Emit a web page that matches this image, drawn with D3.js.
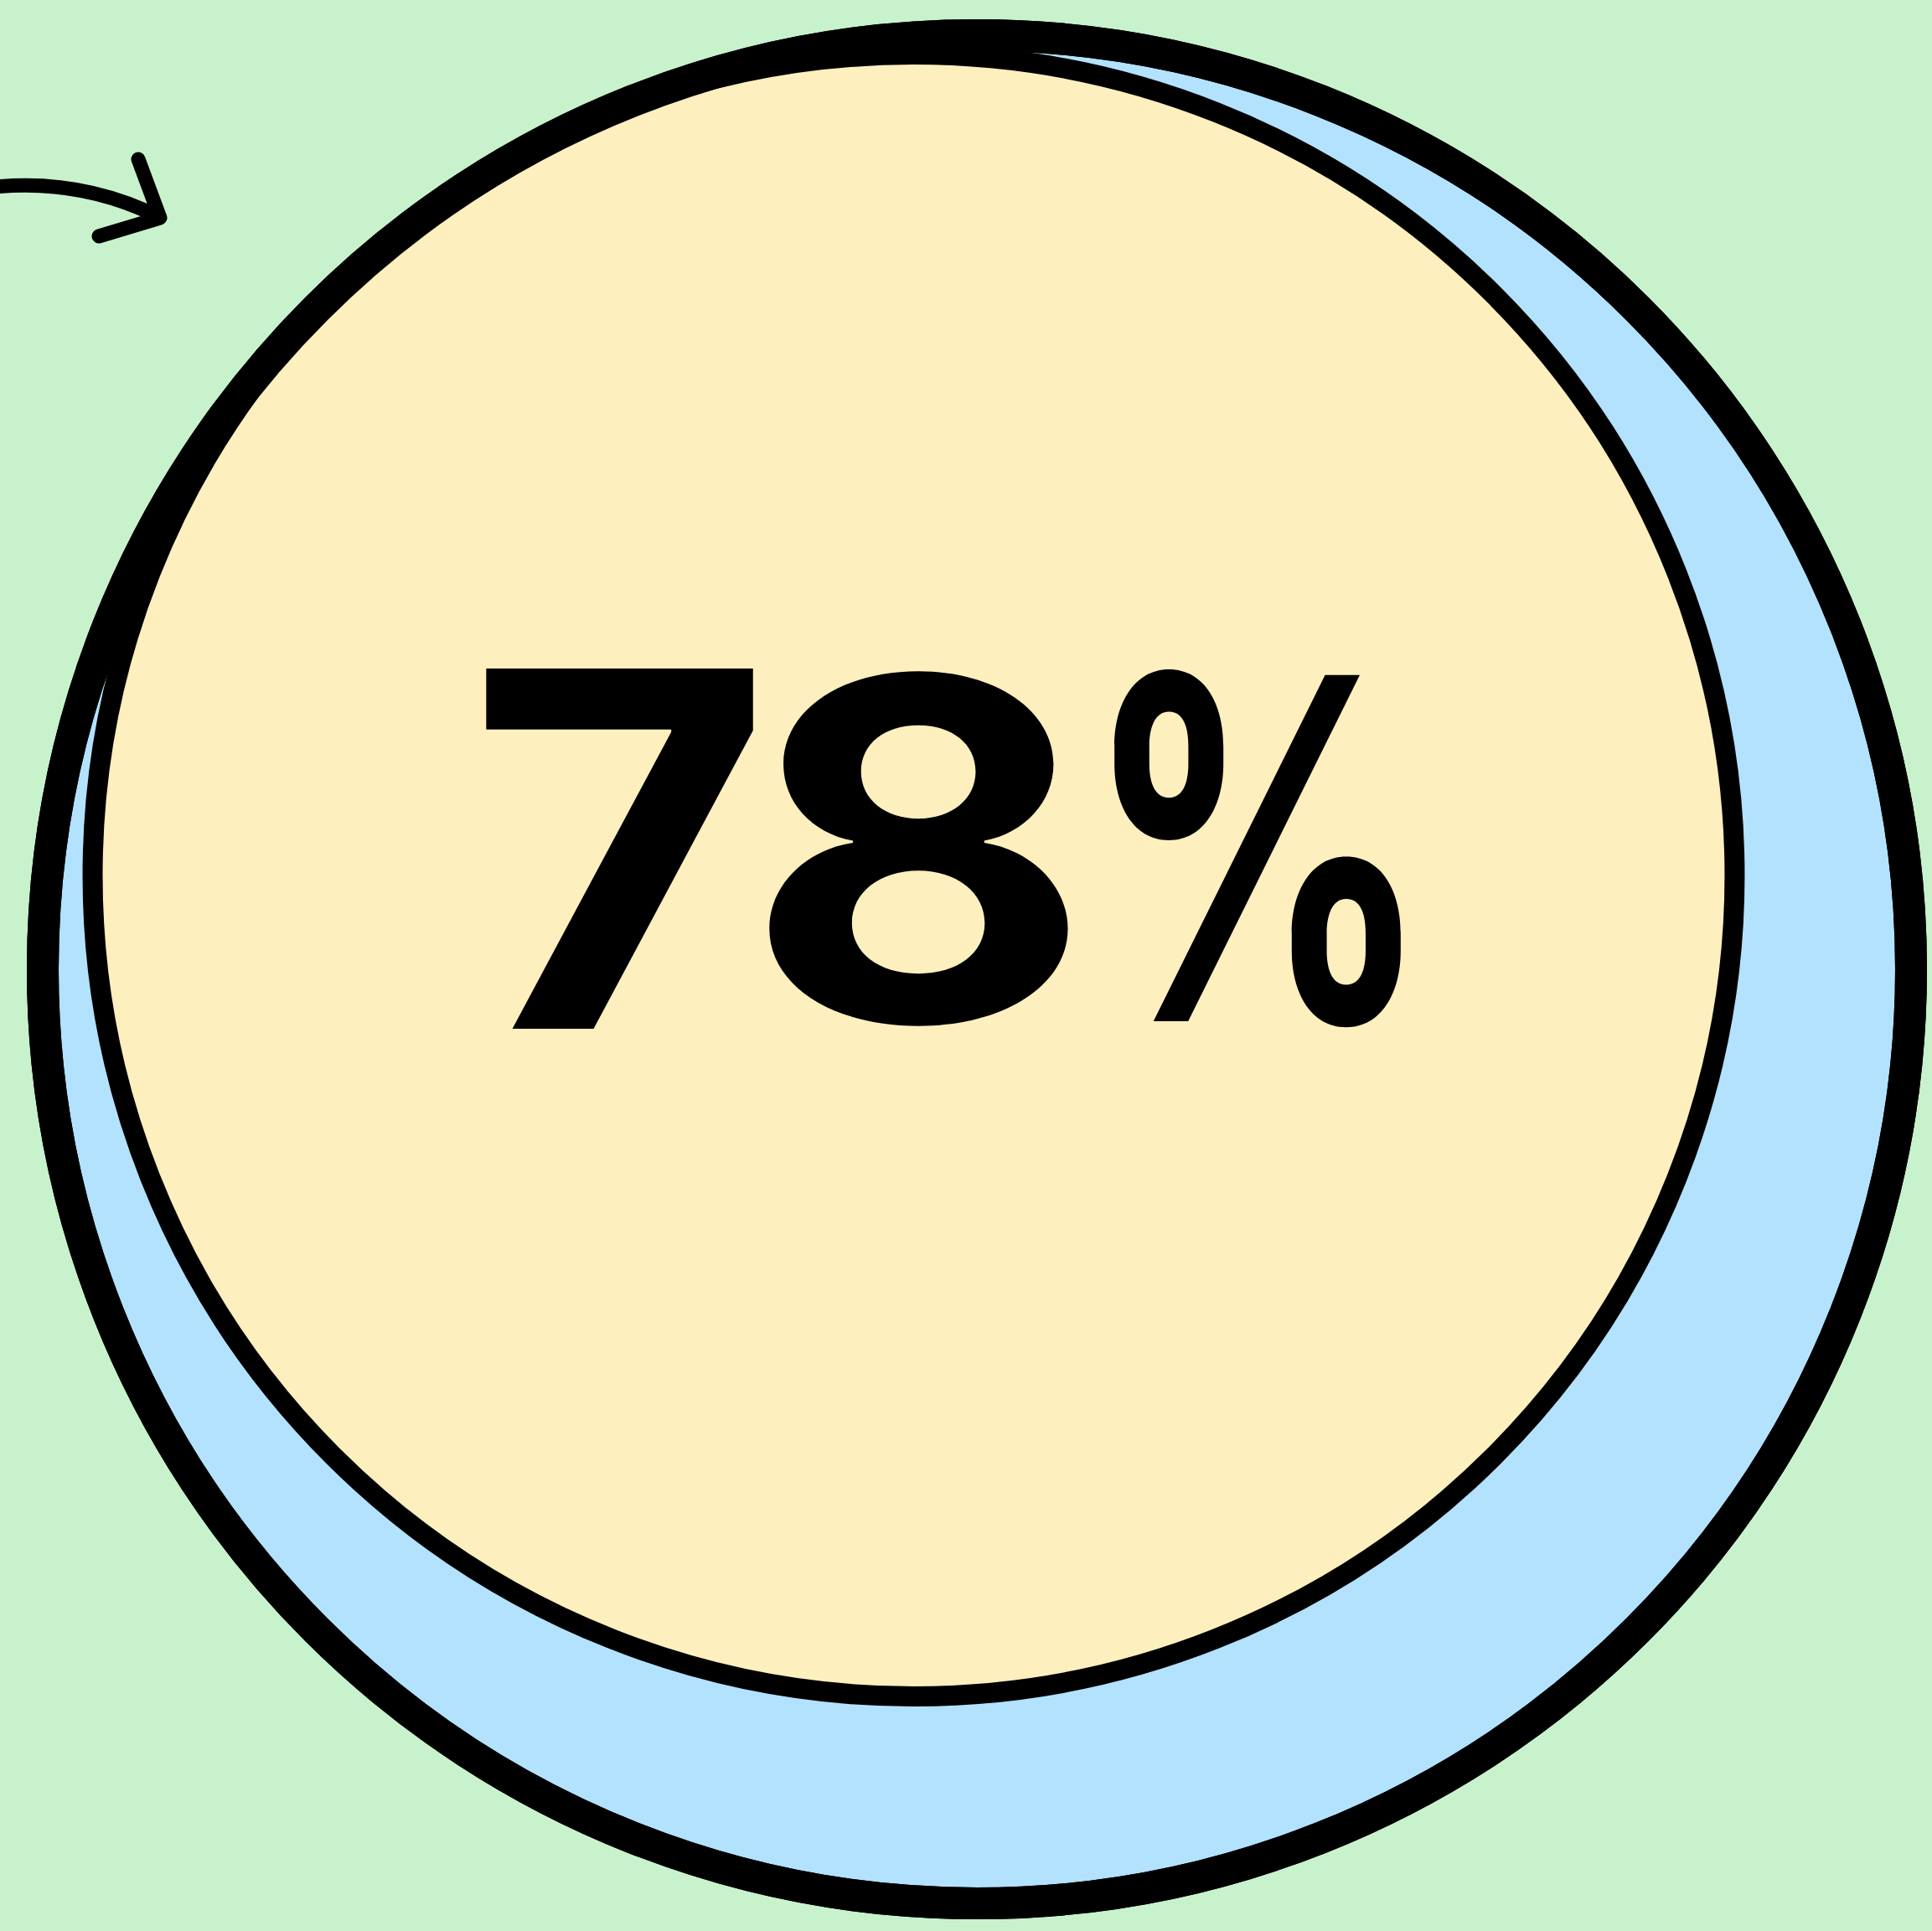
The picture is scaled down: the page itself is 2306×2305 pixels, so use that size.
<!DOCTYPE html>
<html>
<head>
<meta charset="utf-8">
<script src="https://cdn.jsdelivr.net/npm/d3@7"></script>
<style>
  html, body { margin: 0; padding: 0; background: #c8f2cb; overflow: hidden; }
  svg { display: block; }
</style>
</head>
<body>
<svg id="chart"></svg>
<script>
// values
const groups = ["total", "share"];
const values = [100, 78];
const labels = ["78%"];

const width = 2306;
const height = 2305;

const svg = d3.select("#chart")
  .attr("width", width)
  .attr("height", height)
  .attr("viewBox", `0 0 ${width} ${height}`);

svg.append("rect")
  .attr("width", width)
  .attr("height", height)
  .attr("fill", "#c8f2cb");

const outer = { x: 1166, y: 1157 };
const strokes = [38, 24];

// area of the fill is proportional to the value
const radius = d3.scaleSqrt().domain([0, 100]).range([0, 1096]);
const fill = d3.scaleOrdinal().domain(groups).range(["#b3e2fe", "#fdefbe"]);

// inner circle rests against the outer one, up and to the left
const tangentAngle = -124 * Math.PI / 180;
const circles = groups.map((g, i) => {
  const r = radius(values[i]) + strokes[i] / 2;
  const gap = (radius(values[0]) + strokes[0] / 2) - r;
  return {
    key: g,
    r,
    cx: outer.x + Math.cos(tangentAngle) * gap,
    cy: outer.y + Math.sin(tangentAngle) * gap,
    stroke: strokes[i],
  };
});

svg.append("g")
  .selectAll("circle")
  .data(circles)
  .join("circle")
  .attr("cx", (d) => d.cx)
  .attr("cy", (d) => d.cy)
  .attr("r", (d) => d.r)
  .attr("fill", (d) => fill(d.key))
  .attr("stroke", "#000")
  .attr("stroke-width", (d) => d.stroke);

// outer ring again on top so the merged edge stays clean
svg.append("circle")
  .attr("cx", circles[0].cx)
  .attr("cy", circles[0].cy)
  .attr("r", circles[0].r)
  .attr("fill", "none")
  .attr("stroke", "#000")
  .attr("stroke-width", strokes[0]);

// big label, each glyph fitted to the box it takes in the design
const glyphBoxes = [
  [577, 794, 900, 1228],
  [909, 794, 1277, 1228],
  [1325, 793, 1677, 1228],
];
const fontSize = 600;
const fontFamily = "Inter, 'Liberation Sans', sans-serif";
const fontWeight = 700;
const ctx = document.createElement("canvas").getContext("2d");
ctx.font = `${fontWeight} ${fontSize}px ${fontFamily}`;

const glyphs = labels[0].split("").map((ch, i) => {
  const m = ctx.measureText(ch);
  const [x0, y0, x1, y1] = glyphBoxes[i];
  const L = m.actualBoundingBoxLeft;
  const R = m.actualBoundingBoxRight;
  const A = m.actualBoundingBoxAscent;
  const D = m.actualBoundingBoxDescent;
  const sx = (x1 - x0) / (L + R);
  const sy = (y1 - y0) / (A + D);
  return { ch, tx: x0 + L * sx, ty: y0 + A * sy, sx, sy };
});

svg.append("g")
  .attr("class", "label")
  .selectAll("text")
  .data(glyphs)
  .join("text")
  .attr("transform", (d) => `translate(${d.tx},${d.ty}) scale(${d.sx},${d.sy})`)
  .attr("font-family", fontFamily)
  .attr("font-weight", fontWeight)
  .attr("font-size", fontSize)
  .attr("fill", "#000")
  .text((d) => d.ch);

// hand drawn arrow pointing at the chart
const arrow = d3.path();
arrow.moveTo(-6, 223);
arrow.quadraticCurveTo(97, 213, 190, 259);
arrow.moveTo(165, 190);
arrow.lineTo(191, 260);
arrow.lineTo(118, 282);

svg.append("path")
  .attr("d", arrow.toString())
  .attr("fill", "none")
  .attr("stroke", "#000")
  .attr("stroke-width", 17)
  .attr("stroke-linecap", "round")
  .attr("stroke-linejoin", "round");
</script>
</body>
</html>
